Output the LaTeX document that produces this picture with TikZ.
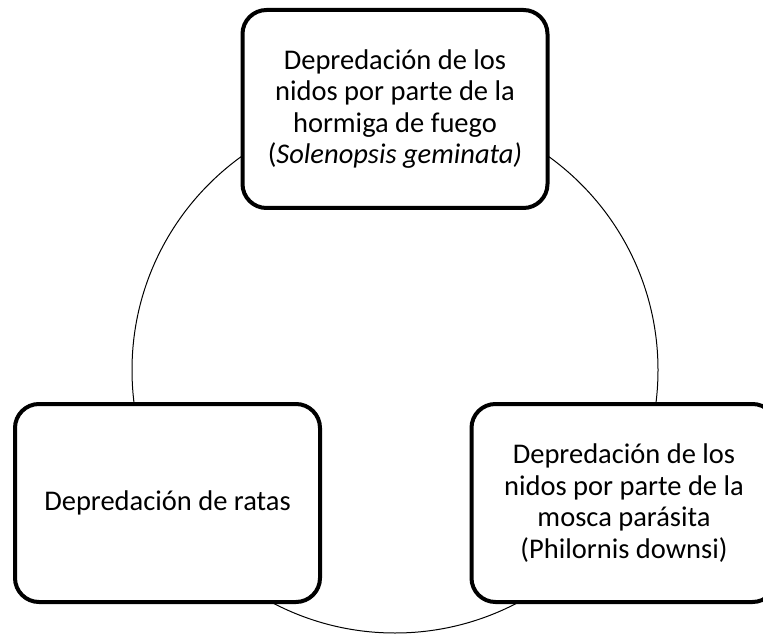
\documentclass[tikz,border=0pt]{standalone}
\usepackage{fontspec}
\setmainfont{Carlito}
\usepackage{tikz}
\newcommand{\cmp}[2]{\begin{minipage}[c]{#1}\centering #2\end{minipage}}

\begin{document}
\begin{tikzpicture}[x=1pt, y=1pt,
  font=\fontsize{28.5}{31.5}\selectfont,
  box/.style={minimum width=305pt, minimum height=198pt, line width=4pt, rounded corners=24pt, draw, fill=white},
  ring/.style={circle, draw, line width=1pt, minimum size=526pt, inner sep=0pt},
  ]
\useasboundingbox (0,0) rectangle (763,633);

\path (395,263) node[ring](cyc){};

\path (395,524) node[box](ant){\cmp{295pt}{Depredación de los\\nidos por parte de la\\hormiga de fuego\\(\textit{Solenopsis geminata)}}};
\path (167.5,130) node[box](rat){\cmp{295pt}{Depredación de ratas}};
\path (624,130) node[box](fly){\cmp{295pt}{Depredación de los\\nidos por parte de la\\mosca parásita\\(Philornis downsi)}};

\end{tikzpicture}
\end{document}
